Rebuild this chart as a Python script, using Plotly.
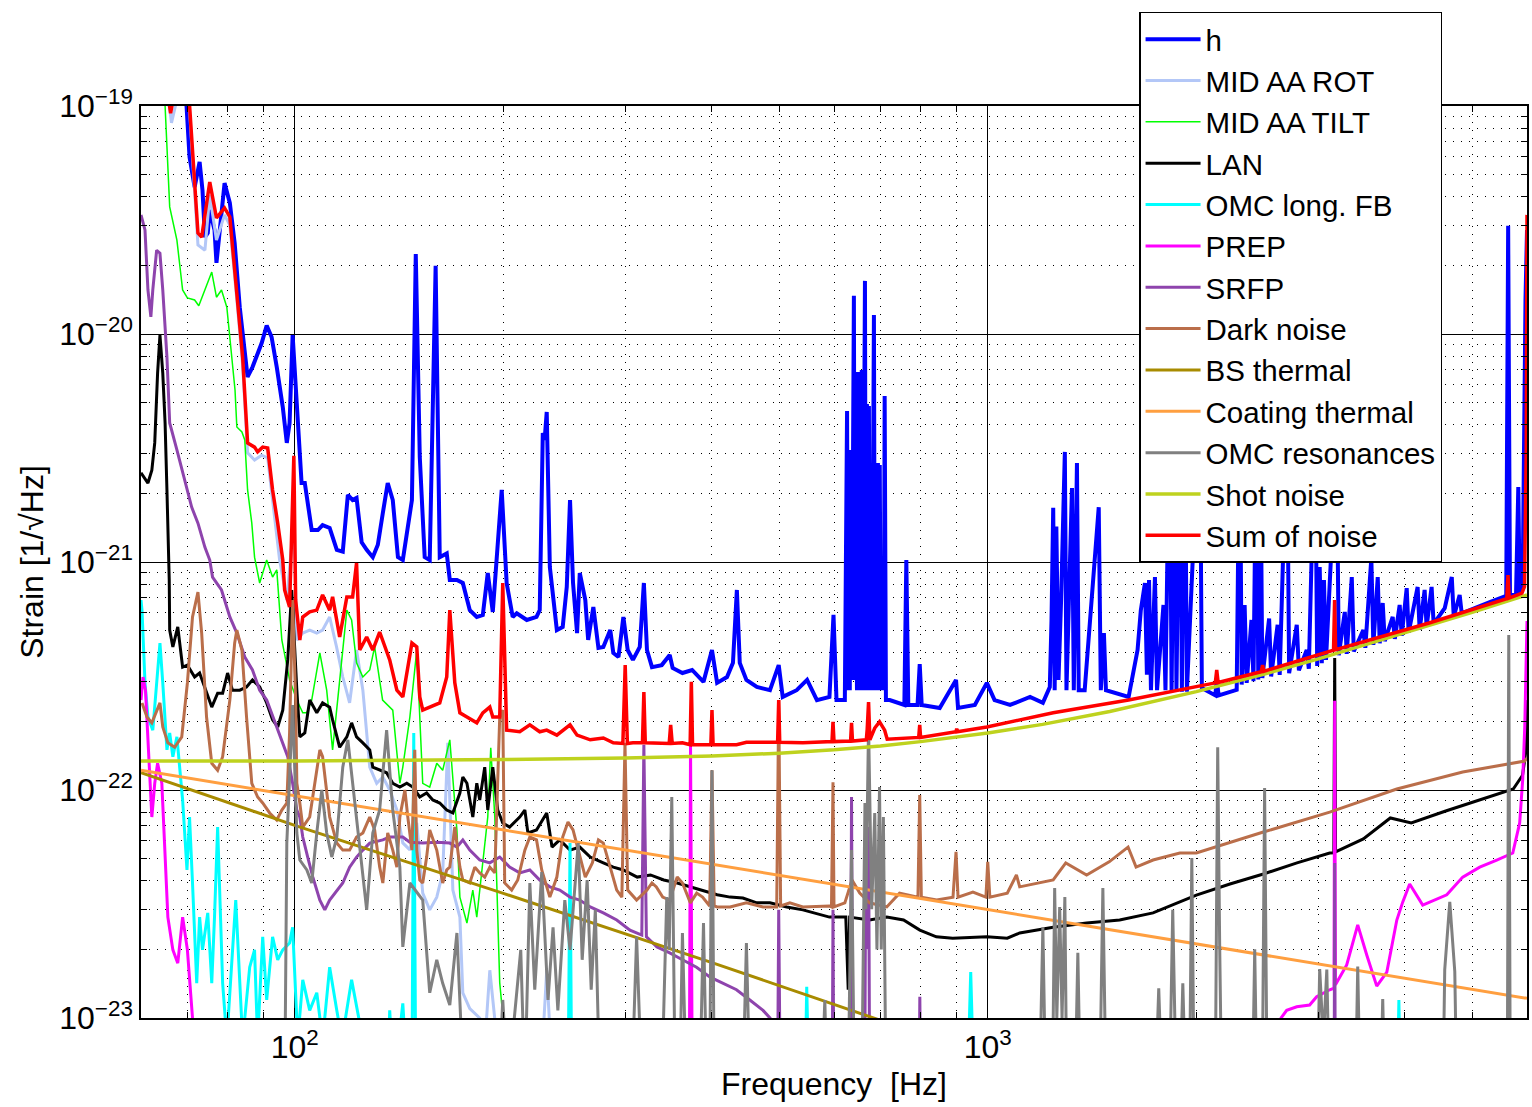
import plotly.graph_objects as go

UNIT = 1e-22  # all strain values below are in units of 1e-22 1/sqrt(Hz)

h_pts = [(60,3000),(69.8,1000),(70.5,597),(71.7,441),(72.9,568),(73.6,428),(74.2,266),(74.9,277),(75.4,350),(76.6,286),(77.1,205),(77.9,286),(79.2,459),(80.6,376),(81.9,251),(83.3,131),(84.7,79.3),(85.5,64.8),(86.9,71.6),(88.1,79.3),(89.6,91.3),(91.1,109),(92.6,97),(94.2,71.6),(96.1,47.8),(97.4,33.3),(98.3,40.7),(99.3,99),(101.0,40.7),(102.3,22.2),(103.4,22.2),(105.8,13.8),(108.0,13.8),(109.7,14.5),(112.3,14.1),(115.0,11.3),(117.3,11.1),(119.3,19.7),(121.2,18.7),(122.8,19.1),(124.9,12.2),(127.0,11.3),(129.6,10.5),(131.8,11.9),(134.0,16.4),(136.2,22.2),(138.5,18.7),(140.9,10.5),(143.2,10.2),(145.6,14.8),(147.6,18.7),(149.5,224),(151.5,28.9),(154.0,10.5),(156.6,10.2),(159.7,199),(161.9,10.5),(165.7,10.9),(167.4,8.34),(171.4,8.34),(174.8,8.09),(178.9,6.15),(183.1,5.74),(186.8,5.85),(189.9,8.95),(193.1,6.04),(198.9,20.7),(202.2,8.09),(206.3,5.74),(209.1,5.96),(216.2,5.57),(223.3,5.74),(225.7,6.15),(228.0,36.8),(229.4,34.3),(231.0,45.5),(233.4,9.5),(238.9,5.03),(243.6,5.19),(246.9,7.77),(249.6,18.7),(252.1,8.09),(255.5,4.88),(257.8,8.95),(262.6,6.81),(265.1,4.55),(269.7,6.35),(274.3,4.2),(278.8,4.24),(285.3,5.03),(288.2,3.99),(293.2,3.83),(298.0,5.74),(302.3,4.11),(307.6,3.72),(314.7,4.24),(319.0,8.09),(322.3,4.11),(327.7,3.46),(338.5,3.53),(347.6,3.91),(351.0,3.43),(362.6,3.26),(374.5,3.36),(388.9,2.98),(400.0,4.11),(406.9,2.95),(420.5,3.13),(428.9,3.61),(434.5,7.54),(438.7,3.61),(448.5,3.04),(464.3,2.83),(485.0,2.74),(499.3,3.53),(506,2.56),(530,2.74),(548.7,3.04),(566.9,2.48),(591,2.56),(599,5.86),(605,2.48),(622,2.48),(626.6,45.9),(628.7,2.74),(631,10.2),(632.3,2.74),(634.6,31.0),(636.6,3.04),(641,147),(643,3.04),(645,15.3),(647.6,2.74),(649.7,68.1),(651.8,2.74),(653.6,6.81),(655.7,2.74),(658,69.5),(660.2,2.74),(665,171),(667,2.74),(669.4,49.3),(671.6,2.74),(673.8,48.3),(676.1,2.74),(678.4,6.81),(680.6,2.74),(685.1,121),(687.4,2.74),(689.7,14.8),(692,2.74),(694.3,27.2),(696.6,2.74),(698.5,26.6),(701,2.74),(705.5,6.81),(708,2.74),(710,53.5),(713,2.48),(722,2.48),(758,2.36),(763,10.2),(768,2.36),(792,2.36),(797.7,3.57),(803,2.36),(852.5,2.29),(900,3.04),(906,2.29),(958,2.36),(997,2.95),(1023,2.48),(1077,2.36),(1151,2.56),(1201,2.41),(1229,2.83),(1236,5.57),(1243,17.3),(1249,2.74),(1256,14.3),(1265,3.04),(1276,6.81),(1292,30.4),(1299,2.74),(1323,21.1),(1331,2.74),(1345,27.2),(1353,2.74),(1380,2.74),(1446,17.4),(1456,2.74),(1471,4.88),(1481,2.74),(1597,2.56),(1645,4.11),(1663,6.15),(1686,8.09),(1697,3.2),(1709,8.34),(1720,2.74),(1743,8.59),(1755,2.74),(1793,6.48),(1805,2.74),(1830,51.3),(1842,2.7),(1860,51.3),(1872,2.7),(1893,51.3),(1906,2.7),(1925,51.3),(1938,2.7),(2023,51.3),(2037,2.8),(2130,2.6),(2140,3.04),(2154,2.6),(2287,2.75),(2310,51.3),(2325,2.9),(2348,6.48),(2364,2.95),(2402,5.57),(2418,3.0),(2441,42),(2457,3.05),(2473,42),(2490,3.1),(2547,5.65),(2564,3.15),(2620,5.3),(2638,3.2),(2703,42),(2722,3.25),(2792,5.3),(2812,3.35),(2886,4.11),(2906,3.4),(2967,42),(2988,3.5),(3013,9.5),(3034,3.6),(3056,8.34),(3077,3.72),(3188,34.3),(3210,3.9),(3275,6.04),(3296,3.95),(3352,8.59),(3374,4.05),(3483,5.03),(3506,4.2),(3577,10.4),(3601,4.33),(3654,8.59),(3678,4.4),(3715,6.61),(3740,4.5),(3840,5.74),(3867,4.6),(3930,6.48),(3957,4.75),(4023,7.68),(4049,4.9),(4172,7.77),(4200,5.05),(4270,7.54),(4298,5.2),(4370,7.77),(4400,5.35),(4565,6.28),(4673,8.59),(4704,5.75),(4797,7.17),(4830,5.95),(5303,6.67),(5600,7.1),(5636,298),(5670,7.17),(5785,7.17),(5829,21.3),(5856,7.3),(5914,7.93),(5970,141),(6000,286)]

mid_rot_pts = [(60,3000),(65.0,1400),(66.4,843),(67.8,1110),(69.0,1300),(70.5,960),(72.5,246),(74.2,233),(75.4,407),(77.1,258),(79.2,333),(80.6,300),(82.5,141),(84.1,73.1),(85.5,30.1),(87.5,28.0),(89.6,29.4),(91.4,28.6),(92.9,18.7),(95.1,10.2),(97.4,6.81),(99.7,15.3),(100.7,4.55),(102.7,4.88),(105.1,5.03),(107.6,4.88),(109.7,5.03),(112.3,5.74),(114.9,4.24),(117.3,3.13),(120.0,2.41),(122.8,4.11),(125.4,2.74),(128.3,1.26),(131.3,1.07),(134.0,1.14),(137.1,1.0),(140.4,0.817),(143.2,0.586),(146.6,0.546),(150.0,0.717),(153.0,0.353),(156.6,0.298),(160.3,0.339),(163.5,0.433),(166.3,1.61),(169.1,0.364),(173.1,0.277),(174.8,0.129),(178.9,0.11),(184.9,0.10),(188.5,0.085),(191.2,0.162),(195.0,0.09),(205,0.06),(228,0.08),(231,0.162),(235,0.06),(260,0.03),(6000,0.03)]

mid_tilt_pts = [(60,5000),(63.9,1200),(65.0,1000),(66.0,361),(67.6,258),(68.9,156),(70.0,144),(71.7,141),(72.7,133),(74.2,156),(75.9,187),(77.1,145),(78.4,156),(79.8,131),(80.6,94.1),(82.0,56.8),(82.5,39.1),(83.9,37.2),(84.7,34.3),(85.5,20.7),(86.7,14.8),(87.5,10.5),(89.0,8.09),(91.1,10.2),(92.9,8.59),(94.2,9.24),(95.8,4.55),(98.3,3.04),(100.7,2.48),(102.7,2.18),(104.1,2.18),(105.8,2.48),(108.7,3.99),(111.2,2.74),(113.4,1.5),(116.1,3.13),(118.9,6.15),(120.8,5.57),(122.8,3.61),(125.4,3.13),(128.3,3.36),(130.4,4.24),(133.9,2.48),(138.5,2.24),(141.8,1.07),(143.2,1.26),(146.6,2.09),(150.0,4.11),(153.0,1.07),(156.6,1.03),(160.3,1.31),(163.5,1.22),(167.4,1.66),(171.4,0.668),(173.1,0.339),(177.2,0.261),(180.7,0.364),(183.1,0.277),(186.8,0.479),(189.9,0.761),(191.8,1.53),(194.4,0.761),(197.6,0.143),(199.6,0.103),(202,0.06),(6000,0.03)]

lan_pts = [(60.0,24.6),(61.4,22.2),(62.2,25.3),(62.8,33.3),(63.4,67.4),(63.9,99),(64.5,67.4),(65.0,40.7),(65.4,20.7),(65.9,8.34),(66.0,5.03),(66.7,4.24),(67.8,5.19),(68.9,3.46),(70.0,3.53),(71.7,3.13),(72.9,3.26),(74.6,2.66),(75.9,2.31),(77.4,2.66),(78.7,2.66),(80.0,3.26),(81.3,2.74),(83.3,2.74),(85.2,2.83),(86.9,3.04),(89.0,2.83),(91.1,2.41),(92.9,2.03),(94.5,1.89),(96.1,2.24),(97.7,3.72),(99.0,7.54),(100.7,2.74),(101.7,1.71),(103.4,1.78),(105.1,2.48),(107.6,2.18),(109.7,2.41),(112.3,2.31),(113.4,2.03),(116.1,1.54),(118.9,1.71),(120.8,1.97),(122.8,1.71),(125.4,1.61),(128.3,1.5),(129.6,1.26),(132.6,1.22),(135.7,1.19),(138.5,1.07),(141.8,1.03),(145.1,1.07),(148.0,1.03),(151.5,0.932),(155.0,0.97),(158.2,0.904),(161.9,0.877),(165.7,0.817),(169.1,0.793),(173.1,0.97),(174.8,1.14),(177.2,1.07),(180.7,0.761),(183.1,1.07),(184.9,0.904),(188.0,1.26),(189.9,0.817),(193.1,1.26),(196.3,0.817),(199.6,0.717),(204.2,0.688),(211.2,0.761),(214.8,0.817),(217.0,0.648),(223.3,0.668),(231.0,0.793),(235.1,0.562),(241.2,0.604),(249.6,0.545),(257.8,0.562),(266.9,0.508),(278.8,0.479),(288.2,0.459),(297.9,0.446),(312.0,0.415),(326.1,0.424),(340.8,0.403),(356.4,0.391),(372.3,0.376),(388.9,0.364),(406.9,0.347),(424.8,0.339),(443.3,0.336),(464.3,0.32),(485.0,0.32),(512.8,0.307),(541,0.298),(591,0.277),(611,0.277),(624,0.277),(629,0.133),(632,0.277),(675,0.269),(715,0.277),(756,0.269),(798,0.243),(843,0.227),(890,0.224),(997,0.227),(1067,0.224),(1112,0.236),(1243,0.25),(1389,0.261),(1550,0.269),(1732,0.289),(1893,0.323),(2000,0.346),(2236,0.387),(2499,0.428),(2794,0.479),(3115,0.529),(3158,0.53),(3167,3.79),(3176,0.535),(3483,0.61),(3810,0.754),(4085,0.717),(4580,0.809),(5128,0.904),(5732,1.01),(5912,1.16),(5970,1.44),(6000,2.48)]

omc_fb_pts = [(60.0,6.81),(60.2,6.15),(60.8,2.95),(61.4,2.09),(62.4,1.83),(63.9,4.41),(64.5,2.95),(65.4,1.5),(66.0,1.78),(66.7,1.4),(67.6,1.71),(68.3,1.26),(68.9,0.904),(69.9,0.446),(70.5,0.761),(71.2,0.391),(72.2,0.142),(72.9,0.277),(73.6,0.199),(74.9,0.289),(75.9,0.142),(76.6,0.277),(77.4,0.688),(78.7,0.142),(79.8,0.08),(82.2,0.329),(83.3,0.142),(84.1,0.08),(86.1,0.167),(87.5,0.199),(88.4,0.08),(89.9,0.227),(91.1,0.12),(92.9,0.227),(94.5,0.18),(96.1,0.199),(98.3,0.213),(99.3,0.25),(101,0.08),(102.7,0.147),(105.1,0.108),(107.6,0.129),(109.7,0.08),(112.3,0.167),(115.0,0.108),(117,0.08),(120.8,0.147),(124.1,0.095),(126,0.05),(136,0.05),(137.1,0.108),(139,0.05),(143.2,0.116),(145.6,0.05),(147.6,0.05),(148.5,1.78),(149.5,0.05),(248,0.05),(249.6,0.585),(251,0.05),(545,0.05),(548,0.137),(552,0.05),(935,0.05),(945,0.159),(955,0.05),(1535,0.05),(1547,0.1),(1560,0.05),(1940,0.05),(1954,0.1),(1968,0.05),(3900,0.05),(3920,0.12),(3940,0.05),(6000,0.03)]

prep_pts = [(60.0,2.48),(60.4,3.13),(60.9,2.74),(61.4,1.71),(62.2,0.761),(62.8,1.07),(63.4,1.31),(64.3,1.07),(65.0,0.545),(65.6,0.277),(66.7,0.199),(67.8,0.174),(68.9,0.277),(70.0,0.199),(71.2,0.1),(71.9,0.06),(370,0.03),(371,0.05),(372.5,1.58),(374,0.05),(375,0.03),(2578,0.08),(2650,0.1),(2700,0.108),(2792,0.112),(2914,0.114),(2983,0.124),(3115,0.133),(3160,0.135),(3167,2.46),(3175,0.14),(3296,0.171),(3419,0.256),(3523,0.189),(3642,0.138),(3766,0.159),(3893,0.269),(3971,0.323),(4063,0.387),(4243,0.313),(4596,0.347),(4846,0.415),(5128,0.459),(5426,0.493),(5723,0.529),(5856,0.717),(5916,1.12),(5956,1.91),(6000,5.51)]

srfp_pts = [(60.0,333),(60.8,286),(61.4,156),(62.0,119),(62.4,156),(63.2,233),(63.9,226),(64.5,156),(65.4,79.3),(66.0,40.7),(67.6,31.0),(68.9,24.6),(71.0,17.4),(72.5,14.8),(74.2,11.6),(75.4,10.2),(76.1,8.59),(78.4,7.54),(80.6,5.74),(82.5,4.88),(84.7,3.83),(86.9,3.36),(89.0,2.74),(91.1,2.48),(94.2,1.89),(96.1,1.61),(97.7,1.4),(99.3,1.07),(100.7,0.817),(101.7,0.761),(102.7,0.622),(104.4,0.508),(106.2,0.415),(108.7,0.329),(110.5,0.298),(112.3,0.329),(115.0,0.364),(117.3,0.391),(120.0,0.459),(122.8,0.508),(125.4,0.545),(128.3,0.585),(134.0,0.604),(137.1,0.622),(143.2,0.622),(146.6,0.59),(153.0,0.585),(160.3,0.59),(167.4,0.585),(171.4,0.562),(174.8,0.604),(178.9,0.545),(184.9,0.493),(191.2,0.479),(197.6,0.508),(204.2,0.459),(211.2,0.433),(218.4,0.446),(225.7,0.403),(233.4,0.376),(241.2,0.364),(249.6,0.339),(257.8,0.329),(266.9,0.307),(278.8,0.289),(291.5,0.269),(304.6,0.243),(316.8,0.231),(319.0,1.58),(321.7,0.227),(333.2,0.205),(347.6,0.193),(362.6,0.18),(380,0.167),(397.6,0.151),(414.7,0.142),(434,0.133),(453.6,0.12),(474,0.108),(485,0.1),(496,0.09),(498,0.09),(499.3,0.298),(501,0.09),(515,0.06),(596,0.03),(598,0.298),(600,0.03),(633,0.03),(636,0.932),(639,0.03),(664,0.03),(667,0.689),(670,0.2),(673,0.689),(676,0.03),(795,0.03),(798,0.124),(801,0.03),(3160,0.03),(3167,0.479),(3174,0.03),(6000,0.03)]

dark_pts = [(60.2,2.41),(61.2,2.09),(62.2,1.97),(63.2,2.24),(63.9,2.41),(64.5,1.89),(65.6,1.61),(67.1,1.54),(68.7,1.71),(70.0,2.95),(71.2,5.74),(72.5,7.38),(73.4,4.88),(74.6,2.09),(75.9,1.31),(77.4,1.22),(78.7,1.4),(80.6,2.48),(81.9,4.41),(82.5,5.03),(83.9,4.11),(85.2,2.09),(86.7,1.07),(88.4,0.932),(89.9,0.877),(92.0,0.793),(94.2,0.739),(95.8,0.817),(97.4,0.877),(98.3,1.78),(99.3,6.81),(100.3,2.48),(100.7,1.07),(101.7,0.877),(102.7,0.688),(105.1,0.761),(106.9,1.07),(108.7,1.5),(109.7,1.4),(112.3,0.761),(115.0,0.585),(117.3,0.545),(120.0,0.545),(122.8,0.622),(125.4,0.648),(128.3,0.761),(130.4,0.668),(132.6,0.459),(134.0,0.391),(136.2,0.648),(138.5,0.545),(140.4,0.459),(141.8,0.761),(144.2,1.0),(145.6,0.761),(147.6,0.545),(149.0,1.5),(150.0,0.545),(151.5,0.403),(153.0,0.391),(155.0,0.508),(156.6,0.668),(160.3,0.545),(163.5,0.391),(165.7,0.446),(167.4,0.459),(170.2,0.688),(173.1,0.459),(174.8,0.403),(178.9,0.391),(181.9,0.459),(184.9,0.433),(188.0,0.415),(191.2,0.459),(194.4,0.433),(197.6,2.09),(199.6,2.24),(200.9,0.391),(205.6,0.364),(209.8,0.403),(214.8,0.545),(218.4,0.622),(223.3,0.604),(227.2,0.446),(233.4,0.339),(238.9,0.415),(243.6,0.622),(247.9,0.724),(252.1,0.668),(256.5,0.545),(262.6,0.415),(268.8,0.479),(274.3,0.604),(278.8,0.585),(285.3,0.459),(291.5,0.364),(296.5,0.339),(299.6,1.61),(302.3,0.364),(311.4,0.329),(322.3,0.364),(327.7,0.391),(332.5,0.376),(339.6,0.339),(347.6,0.329),(356.4,0.415),(362.6,0.391),(372.3,0.32),(380.2,0.353),(387.7,0.339),(397,0.31),(400.0,1.22),(403,0.31),(406.9,0.307),(424.8,0.307),(448.5,0.32),(474.0,0.307),(496,0.307),(499.3,2.48),(502.5,0.31),(518.1,0.32),(541,0.307),(591,0.31),(595,0.307),(598,1.08),(600,0.307),(622,0.32),(637,0.403),(653.6,0.353),(675,0.32),(715,0.307),(746,0.353),(793,0.339),(797.7,0.95),(802,0.339),(844,0.329),(891,0.339),(900,0.535),(906,0.339),(952,0.357),(994,0.339),(1000,0.484),(1007,0.339),(1067,0.353),(1100,0.424),(1112,0.376),(1243,0.403),(1296,0.479),(1389,0.424),(1497,0.484),(1594,0.562),(1637,0.459),(1732,0.493),(1893,0.529),(2000,0.529),(2499,0.654),(3115,0.8),(3893,1.01),(4846,1.2),(5956,1.34),(6000,1.38)]

bs_thermal_pts = [(60,1.19),(100,0.70),(200,0.352),(400,0.175),(800,0.085),(1000,0.068)]

coating_pts = [(60,1.22),(100,0.945),(300,0.545),(1000,0.30),(3000,0.172),(6000,0.122)]

omc_res_pts = [(60,0.02),(96.5,0.02),(97.4,0.585),(99.3,2.36),(100.7,0.648),(101.7,0.493),(104.1,0.446),(105.8,0.391),(107.6,0.648),(109.4,1.0),(111.2,0.648),(113.1,0.508),(115.0,0.622),(117.3,1.26),(119.3,1.66),(121.2,1.07),(124.1,0.545),(127.0,0.298),(129.6,0.648),(132.6,0.817),(135.7,1.83),(138.5,0.817),(141.8,0.459),(143.2,0.205),(146.6,0.391),(153.0,0.329),(156.6,0.129),(160.3,0.18),(163.5,0.142),(167.4,0.114),(171.4,0.236),(174.8,0.06),(197.0,0.05),(199.6,0.12),(203,0.05),(211.9,0.199),(214.8,0.05),(218.4,0.391),(222,0.133),(227.2,0.437),(232,0.12),(235.9,0.25),(239.7,0.108),(245.3,0.329),(249.6,0.199),(256.5,0.585),(259.9,0.18),(264.2,0.403),(267.8,0.133),(271.5,0.298),(275.5,0.05),(306.5,0.05),(311.4,0.227),(316.8,0.05),(338.5,0.05),(344.2,0.339),(347,0.2),(350,0.932),(354,0.05),(359.4,0.05),(362.6,0.236),(367.3,0.05),(384.1,0.05),(388.9,0.261),(393,0.05),(397,0.05),(400,1.22),(403,0.05),(443.3,0.05),(448.5,0.213),(453.6,0.05),(576,0.05),(582,0.12),(586,0.05),(629,0.05),(636,0.545),(642,0.05),(658,0.05),(665,0.877),(667,0.3),(673,1.93),(680,0.3),(687,0.793),(692,0.2),(698,1.03),(702,0.2),(707,0.761),(713,0.05),(1188,0.05),(1201,0.25),(1212,0.05),(1240,0.05),(1249,0.372),(1258,0.1),(1270,0.307),(1280,0.1),(1292,0.339),(1300,0.05),(1337,0.05),(1349,0.193),(1360,0.05),(1451,0.05),(1466,0.372),(1481,0.05),(1746,0.05),(1765,0.135),(1784,0.05),(1830,0.05),(1849,0.298),(1870,0.05),(1895,0.05),(1912,0.142),(1930,0.05),(1955,0.05),(1970,0.503),(1985,0.05),(2130,0.05),(2147,1.54),(2161,0.211),(2175,0.05),(2410,0.05),(2428,0.2),(2445,0.05),(2490,0.05),(2509,1.02),(2530,0.05),(2990,0.05),(3013,0.164),(3050,0.08),(3085,0.163),(3110,0.05),(3395,0.05),(3419,0.168),(3445,0.05),(3690,0.05),(3715,0.121),(3740,0.05),(4540,0.05),(4565,0.163),(4642,0.323),(4720,0.16),(4750,0.05),(5620,0.05),(5647,4.78),(5675,0.05),(6000,0.05)]

shot_pts = [(60,1.34),(100,1.34),(200,1.36),(300,1.38),(400,1.41),(500,1.45),(600,1.5),(700,1.56),(800,1.63),(1000,1.78),(1200,1.94),(1500,2.21),(2000,2.7),(2500,3.22),(3000,3.76),(4000,4.88),(5000,6.01),(6000,7.17)]

sum_pts = [(60,3000),(65.4,1200),(66.2,930),(67.2,1200),(68.5,2000),(69.8,1050),(70.5,1010),(72.5,277),(73.4,266),(75.4,464),(77.1,323),(79.2,357),(80.6,326),(82.5,156),(84.1,79.3),(85.5,33.3),(87.5,31.9),(88.4,30.4),(89.9,31.9),(91.4,31.6),(92.9,20.7),(94.5,14.8),(96.1,10.2),(96.7,7.54),(98.3,6.35),(99.7,29.2),(100.3,6.81),(101.7,4.55),(102.7,5.74),(105.1,6.04),(107.6,6.15),(109.7,7.17),(112.3,6.15),(113.4,7.03),(116.1,4.69),(118.9,7.03),(121.2,7.03),(122.8,9.9),(124.1,4.11),(127.0,4.69),(129.6,4.11),(132.6,4.93),(137.1,3.72),(140.4,2.74),(143.2,2.56),(147.6,4.41),(150.0,4.24),(151.5,2.56),(153.0,2.24),(156.6,2.31),(161.9,2.41),(165.7,3.13),(167.4,6.15),(170.2,2.95),(173.1,2.18),(177.2,2.09),(183.1,1.97),(186.8,2.18),(191.2,2.31),(193.1,2.09),(197.6,2.09),(199.6,8.09),(202.2,1.83),(211.2,1.8),(218.4,1.93),(225.7,1.8),(231.0,1.83),(238.9,1.74),(249.6,1.93),(255.5,1.74),(266.9,1.66),(278.8,1.69),(288.2,1.61),(297.5,1.6),(299.8,3.53),(302,1.6),(307.6,1.61),(317.5,1.61),(319.0,2.69),(320.5,1.61),(332.5,1.61),(347,1.6),(348.7,1.93),(350.5,1.6),(362.6,1.61),(372,1.58),(373.5,2.98),(375,1.58),(384.1,1.58),(398.5,1.58),(400.0,2.24),(401.5,1.58),(414.7,1.58),(434,1.58),(448.5,1.62),(497.5,1.62),(499.3,2.48),(501,1.62),(541,1.61),(591,1.62),(596,1.63),(598,1.99),(600,1.63),(634,1.64),(636,1.97),(638,1.64),(668,1.66),(670,1.85),(673,2.43),(676,1.66),(687,1.87),(698,1.99),(710,1.83),(716,1.67),(795,1.7),(797.7,1.93),(800,1.7),(900,1.8),(902,1.86),(904,1.8),(997,1.89),(1243,2.18),(1597,2.48),(2130,2.95),(2140,3.36),(2150,2.96),(2480,3.3),(2492,3.53),(2504,3.32),(3155,4.1),(3166,6.81),(3177,4.12),(4334,5.4),(5610,6.9),(5633,8.77),(5655,6.95),(5900,7.31),(5950,7.8),(5985,30),(6000,333)]

series = [
    ("h", h_pts, "#0000FF", 4),
    ("MID AA ROT", mid_rot_pts, "#B3C7F7", 3),
    ("MID AA TILT", mid_tilt_pts, "#00FF00", 1.5),
    ("LAN", lan_pts, "#000000", 3),
    ("OMC long. FB", omc_fb_pts, "#00FFFF", 3),
    ("PREP", prep_pts, "#FF00FF", 3),
    ("SRFP", srfp_pts, "#8E44AD", 3),
    ("Dark noise", dark_pts, "#BA6E4A", 3),
    ("BS thermal", bs_thermal_pts, "#A88B00", 3),
    ("Coating thermal", coating_pts, "#FF9F40", 3),
    ("OMC resonances", omc_res_pts, "#808080", 3),
    ("Shot noise", shot_pts, "#BED21E", 3.5),
    ("Sum of noise", sum_pts, "#FF0000", 3.5),
]

fig = go.Figure()
for name, pts, color, width in series:
    fig.add_trace(go.Scatter(
        x=[p[0] for p in pts], y=[p[1] * UNIT for p in pts],
        mode="lines", name=name, line=dict(color=color, width=width),
    ))

x_minor = [d * 10 ** e for e in (1, 2, 3) for d in range(2, 10)]
y_minor = [d * 10.0 ** e for e in (-23, -22, -21, -20) for d in range(2, 10)]
font = "Liberation Sans, Arial, sans-serif"

fig.update_layout(
    width=1532, height=1107,
    margin=dict(l=141, r=5, t=106, b=89, autoexpand=False),
    plot_bgcolor="white", paper_bgcolor="white",
    font=dict(family=font, size=32, color="black"),
    legend=dict(x=0.7201, y=1.1031, xanchor="left", yanchor="top",
                bgcolor="white", bordercolor="black", borderwidth=1.5,
                font=dict(family=font, size=29.5, color="black"),
                itemwidth=55, tracegroupgap=0, maxheight=700),
    xaxis=dict(
        type="log", range=[1.77815, 3.77815],
        tickvals=[100, 1000], ticktext=["10<sup>2</sup>", "10<sup>3</sup>"],
        showgrid=True, gridcolor="black", gridwidth=1,
        ticks="inside", ticklen=10, tickcolor="black",
        showline=True, linecolor="black", linewidth=1.5, mirror="ticks",
        minor=dict(tickmode="array", tickvals=x_minor, showgrid=True,
                   gridcolor="black", griddash="1px,7px", gridwidth=1,
                   ticks="inside", ticklen=6, tickcolor="black"),
        title=dict(text="Frequency\u00a0 [Hz]", standoff=8,
                   font=dict(family=font, size=32)),
        tickfont=dict(family=font, size=32),
    ),
    yaxis=dict(
        type="log", range=[-23, -19],
        tickvals=[1e-23, 1e-22, 1e-21, 1e-20, 1e-19],
        ticktext=["10<sup>\u221223</sup>", "10<sup>\u221222</sup>", "10<sup>\u221221</sup>",
                  "10<sup>\u221220</sup>", "10<sup>\u221219</sup>"],
        showgrid=True, gridcolor="black", gridwidth=1,
        ticks="inside", ticklen=10, tickcolor="black",
        showline=True, linecolor="black", linewidth=1.5, mirror="ticks",
        minor=dict(tickmode="array", tickvals=y_minor, showgrid=True,
                   gridcolor="black", griddash="1px,7px", gridwidth=1,
                   ticks="inside", ticklen=6, tickcolor="black"),
        title=dict(text="Strain [1/\u221aHz]", standoff=6,
                   font=dict(family=font, size=32)),
        tickfont=dict(family=font, size=32),
    ),
)

fig.write_html("out.html")
